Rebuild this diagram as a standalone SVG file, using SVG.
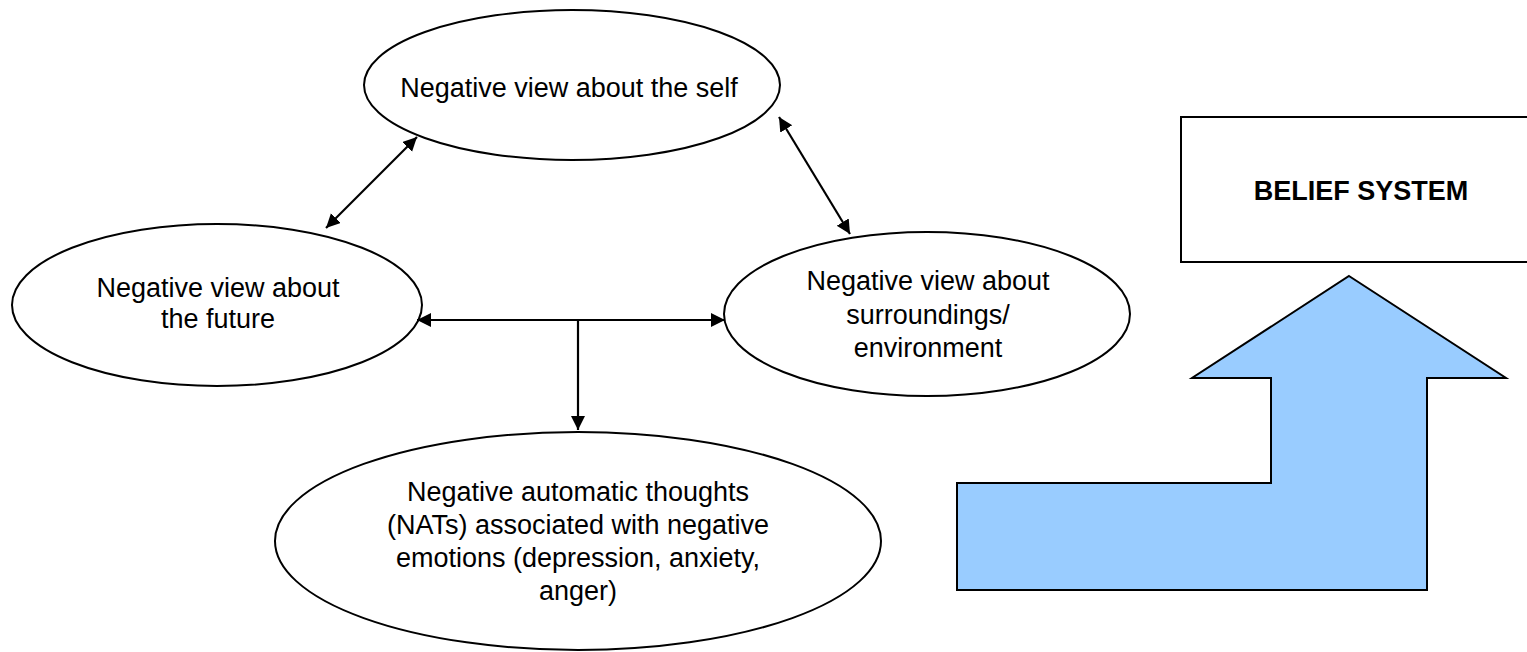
<svg xmlns="http://www.w3.org/2000/svg" width="1527" height="652" viewBox="0 0 1527 652">
<defs>
<style>
.node ellipse{fill:#fff;stroke:#000;stroke-width:2}
.t{font-family:"Liberation Sans",Arial,sans-serif;font-size:27px;fill:#000;text-anchor:middle}
.b{font-family:"Liberation Sans",Arial,sans-serif;font-size:27px;font-weight:bold;fill:#000;text-anchor:middle}
.c{stroke:#000;stroke-width:2.2;fill:none}
</style>
<marker id="ah" markerUnits="userSpaceOnUse" markerWidth="15" markerHeight="15" refX="14" refY="7" orient="auto-start-reverse" viewBox="0 0 15 15">
<path d="M0,0 L14,7 L0,14 z" fill="#000"/>
</marker>
</defs>
<rect width="1527" height="652" fill="#fff"/>
<g id="self" class="node">
<ellipse cx="572" cy="85" rx="208" ry="75"/>
<text class="t" x="569" y="97">Negative view about the self</text>
</g>
<g id="future" class="node">
<ellipse cx="217" cy="305" rx="205" ry="81"/>
<text class="t" x="218" y="297">Negative view about</text>
<text class="t" x="218" y="328">the future</text>
</g>
<g id="surroundings" class="node">
<ellipse cx="927" cy="314" rx="203" ry="82"/>
<text class="t" x="928" y="290">Negative view about</text>
<text class="t" x="928" y="324">surroundings/</text>
<text class="t" x="928" y="357">environment</text>
</g>
<g id="nats" class="node">
<ellipse cx="578" cy="541" rx="303" ry="109"/>
<text class="t" x="578" y="501">Negative automatic thoughts</text>
<text class="t" x="578" y="534">(NATs) associated with negative</text>
<text class="t" x="578" y="567">emotions (depression, anxiety,</text>
<text class="t" x="578" y="600">anger)</text>
</g>
<g id="belief-system">
<rect x="1181" y="117" width="352" height="145" fill="#fff" stroke="#000" stroke-width="2"/>
<text class="b" x="1361" y="200">BELIEF SYSTEM</text>
</g>
<g id="big-arrow">
<polygon points="1349,276 1506,378 1427,378 1427,590 957,590 957,483 1271,483 1271,378 1192,378" fill="#99CCFF" stroke="#000" stroke-width="2" stroke-linejoin="miter"/>
</g>
<g id="connectors">
<line class="c" x1="417" y1="137" x2="326" y2="228" marker-start="url(#ah)" marker-end="url(#ah)"/>
<line class="c" x1="779" y1="117" x2="850" y2="234" marker-start="url(#ah)" marker-end="url(#ah)"/>
<line class="c" x1="417" y1="320" x2="725" y2="320" marker-start="url(#ah)" marker-end="url(#ah)"/>
<line class="c" x1="578" y1="320" x2="578" y2="430" marker-end="url(#ah)"/>
</g>
</svg>
